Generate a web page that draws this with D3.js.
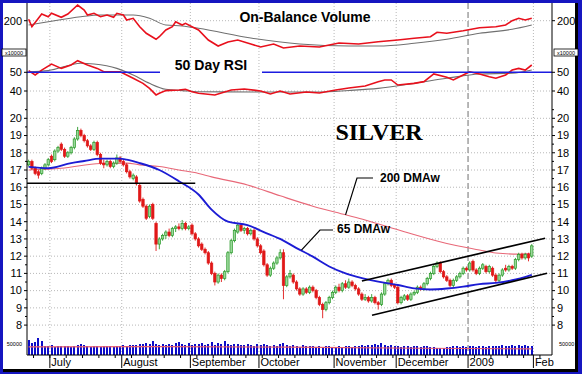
<!DOCTYPE html>
<html lang="en">
<head>
<meta charset="UTF-8">
<title>Silver</title>
<script src="https://d3js.org/d3.v7.min.js"></script>
<style>
  body { margin: 0; background: #fff; }
  svg { display: block; font-family: "Liberation Sans", Arial, sans-serif; }
</style>
</head>
<body>
<div id="chart"></div>
<script>
// trading days 20 Jun 2008 .. 30 Jan 2009, one entry per day
const opens = [17.3,17.5,17.1,16.9,16.8,17.1,17.3,17.8,17.6,18.1,18.5,18.2,17.8,18.0,18.3,18.8,19.3,19.0,18.7,18.4,
  18.2,18.6,17.9,17.4,17.3,17.5,17.2,17.4,17.7,17.5,17.3,16.9,16.5,16.6,16.1,15.3,14.9,14.3,15.0,13.9,
  12.7,13.0,13.2,13.4,13.2,13.6,13.7,13.6,13.9,13.6,13.8,13.3,13.0,12.7,12.4,12.2,11.6,11.0,10.5,10.9,
  10.7,11.1,12.2,12.9,13.4,13.8,13.5,13.6,13.3,13.5,13.0,12.6,12.3,11.5,10.9,11.3,11.6,11.9,12.2,10.3,
  10.8,10.9,10.5,10.1,9.8,10.1,9.9,10.2,10.0,9.6,9.2,8.9,9.3,9.6,9.9,10.2,10.0,10.4,10.2,10.5,
  10.3,10.1,9.8,9.5,9.6,9.4,9.6,9.3,9.2,9.8,10.4,10.6,10.3,10.2,9.3,9.5,9.7,9.5,9.8,9.9,
  10.2,10.1,10.4,10.7,11.0,11.4,11.6,11.1,10.8,10.6,10.3,10.6,10.8,11.0,11.3,11.2,11.7,11.2,11.0,11.3,
  11.4,11.1,11.3,10.9,10.6,10.9,11.3,11.2,11.4,11.3,11.8,12.1,11.9,12.1,12.0];
const highs = [17.6,17.6,17.2,17.0,17.2,17.4,17.7,17.9,18.2,18.4,18.6,18.3,18.1,18.4,18.9,19.5,19.4,19.1,18.8,18.5,
  18.7,18.7,18.0,17.6,17.6,17.6,17.5,17.9,17.8,17.6,17.4,17.0,16.8,16.7,16.2,15.4,15.0,15.0,15.1,14.0,
  13.1,13.3,13.5,13.6,13.7,13.8,13.9,14.1,14.0,13.8,13.9,13.4,13.1,12.8,12.5,12.3,11.7,11.1,11.0,11.0,
  11.2,12.3,13.0,13.6,13.9,13.9,13.7,13.7,13.6,13.6,13.1,12.7,12.4,11.6,11.4,11.7,12.0,12.4,12.4,10.9,
  11.2,11.0,10.6,10.2,10.2,10.2,10.3,10.3,10.1,9.7,9.3,9.4,9.7,10.0,10.3,10.4,10.5,10.6,10.7,10.6,
  10.4,10.2,9.9,9.8,9.7,9.8,9.7,9.4,9.9,10.5,10.7,10.7,10.4,10.3,9.7,9.8,9.8,9.9,10.0,10.3,
  10.3,10.5,10.8,11.1,11.5,11.7,11.7,11.2,10.9,10.7,10.7,10.9,11.1,11.4,11.4,11.7,11.8,11.3,11.4,11.6,
  11.5,11.5,11.4,11.0,11.0,11.3,11.5,11.5,11.5,11.9,12.2,12.2,12.2,12.2,12.7];
const lows = [17.2,17.0,16.7,16.5,16.7,17.0,17.2,17.4,17.5,18.0,18.1,17.7,17.7,17.9,18.2,18.7,18.9,18.6,18.3,18.1,
  18.1,17.8,17.3,17.1,17.2,17.1,17.1,17.3,17.4,17.2,16.8,16.5,16.4,16.1,15.1,14.8,14.1,14.2,14.1,12.3,
  12.4,12.9,13.0,13.1,13.1,13.4,13.5,13.5,13.5,13.5,13.2,12.9,12.5,12.3,12.1,11.5,10.9,10.3,10.4,10.5,
  10.6,11.0,12.1,12.8,13.3,13.4,13.3,13.2,13.2,12.9,12.5,12.1,11.4,10.8,10.8,11.2,11.5,11.8,9.5,10.2,
  10.7,10.4,10.0,9.7,9.7,9.8,9.8,9.9,9.5,9.1,8.4,8.8,9.2,9.5,9.8,9.9,9.9,10.1,10.1,10.2,
  10.0,9.7,9.4,9.4,9.3,9.3,9.2,8.9,9.1,9.7,10.3,10.2,10.1,9.2,9.2,9.4,9.4,9.4,9.7,9.8,
  10.0,10.0,10.3,10.6,10.9,11.3,11.0,10.7,10.5,10.2,10.2,10.5,10.7,10.9,11.1,11.1,11.1,10.9,10.9,11.2,
  11.0,11.0,10.8,10.5,10.5,10.8,11.1,11.1,11.2,11.2,11.7,11.8,11.8,11.7,11.9];
const closes = [17.5,17.1,16.8,16.7,17.1,17.3,17.6,17.5,18.1,18.3,18.2,17.8,18.0,18.3,18.8,19.3,19.0,18.7,18.4,18.2,
  18.6,17.9,17.4,17.3,17.5,17.2,17.4,17.7,17.5,17.3,16.9,16.6,16.7,16.2,15.2,14.9,14.2,14.9,14.2,12.7,
  13.0,13.2,13.4,13.2,13.6,13.7,13.6,13.9,13.6,13.7,13.3,13.0,12.6,12.4,12.2,11.6,11.0,10.5,10.9,10.7,
  11.1,12.2,12.9,13.5,13.8,13.5,13.6,13.3,13.5,13.0,12.6,12.2,11.5,10.9,11.3,11.6,11.9,12.2,10.3,10.8,
  11.0,10.5,10.1,9.8,10.1,9.9,10.2,10.0,9.6,9.2,8.9,9.3,9.6,9.9,10.2,10.0,10.4,10.2,10.5,10.3,
  10.1,9.8,9.5,9.6,9.4,9.6,9.3,9.2,9.8,10.4,10.6,10.3,10.2,9.3,9.6,9.7,9.5,9.8,9.9,10.2,
  10.1,10.4,10.7,11.0,11.4,11.6,11.1,10.8,10.6,10.3,10.6,10.8,11.0,11.3,11.2,11.6,11.2,11.0,11.3,11.5,
  11.1,11.4,10.9,10.6,10.9,11.2,11.2,11.4,11.3,11.8,12.1,11.9,12.1,11.9,12.6];
const volumes = [66000,56000,58000,76000,62000,42000,40000,44000,38000,41000,40000,39000,43000,37000,40000,45000,52000,44000,41000,38000,
  42000,40000,36000,41000,43000,39000,38000,42000,40000,44000,41000,45000,47000,46000,50000,52000,55000,48000,62000,50000,
  47000,52000,45000,48000,44000,56000,57000,50000,46000,53000,44000,48000,50000,56000,47000,52000,60000,46000,55000,48000,
  62000,50000,46000,52000,48000,45000,44000,50000,47000,42000,48000,44000,52000,47000,43000,46000,40000,48000,56000,44000,
  42000,46000,40000,38000,44000,41000,39000,42000,36000,40000,37000,39000,41000,38000,36000,40000,37000,42000,39000,38000,
  40000,43000,46000,42000,44000,47000,52000,45000,54000,44000,40000,46000,43000,41000,38000,40000,42000,36000,39000,41000,
  37000,43000,40000,38000,36000,33000,30000,34000,35000,37000,39000,41000,38000,40000,36000,39000,41000,37000,40000,42000,
  38000,40000,41000,39000,42000,44000,40000,43000,45000,41000,44000,42000,46000,40000,43000];

// moving averages and indicators as [day index, value]
const ma65 = [[0,17.18],[6,17.1],[13,17.4],[17,17.52],[22,17.66],[28,17.66],[30,17.6],[34,17.4],[40,17.0],[46,16.35],
  [52,15.58],[56,14.7],[61,14.0],[67,13.8],[72,13.4],[77,13.0],[82,12.47],[87,11.97],[92,11.4],[97,11.0],
  [102,10.73],[107,10.52],[113,10.33],[118,10.13],[123,10.07],[128,10.12],[133,10.23],[138,10.38],[143,10.45],[148,10.6],[154,10.92]];
const ma200 = [[0,17.0],[10,17.1],[22,17.38],[30,17.4],[34,17.3],[40,17.2],[46,17.0],[52,16.8],[56,16.6],[67,16.13],
  [77,15.5],[87,14.9],[97,14.4],[103,14.1],[115,13.42],[128,12.74],[138,12.36],[143,12.18],[150,12.12],[154,12.16]];
const obv = [[0,202.8],[1,188],[4,213.4],[6,208],[7,214.8],[10,206.8],[12,213.4],[15,231.4],[17,221.4],[18,211.4],
  [20,214.8],[22,208],[24,211.4],[26,206.8],[27,214.8],[29,211.4],[30,201.4],[32,204.8],[34,188],[36,174.8],
  [39,162.8],[40,168],[42,181.4],[44,188],[45,198],[47,191.4],[48,194.8],[50,188],[52,181.4],[55,161.4],
  [58,149.4],[61,157.4],[64,161.4],[68,153.4],[71,147.4],[75,153.4],[78,145.4],[83,149.4],[89,147.4],[95,155.4],
  [101,153.4],[107,158],[113,161.4],[118,164.8],[123,168],[125,176.8],[128,174.8],[133,180],[138,186],[143,188],
  [146,191.4],[148,200],[150,204.8],[152,201.4],[154,204.8]];
const obvAvg = [[0,191.4],[6,198],[16,208],[22,211.4],[32,211.4],[37,204.8],[42,191.4],[47,189.4],[52,184.8],[68,165.4],
  [83,153.4],[98,149.4],[107,149.4],[118,154.8],[128,162.8],[138,174.8],[148,182.8],[154,191.4]];
const rsi = [[0,50.9],[2,48.6],[4,51.2],[7,54.4],[10,52.1],[13,53.9],[15,56.2],[18,53.9],[21,52.1],[23,50.3],
  [26,50.3],[28,50.3],[30,48.6],[32,46.8],[35,44.1],[37,41.4],[39,37.9],[40,38.8],[42,40.2],[46,40.5],
  [48,40.9],[50,39.6],[52,38.8],[57,37.9],[62,40.5],[66,41.1],[71,40],[74,38.4],[77,40],[80,38.4],
  [85,39.5],[89,38.9],[94,40.5],[98,41.6],[103,42.7],[107,45],[109,45.9],[111,45.9],[113,43.2],[118,44.1],
  [121,45],[124,49.1],[128,47.3],[130,45.9],[133,48.6],[135,50.3],[138,49.1],[141,47.6],[143,46.8],[146,48.6],
  [148,51.2],[150,52.1],[152,51.2],[154,53.9]];
const rsiAvg = [[0,50.3],[6,50.9],[16,54.8],[20,54.4],[27,52.1],[32,48.6],[37,44.1],[42,40.9],[47,40.2],[52,39.6],
  [71,39.5],[89,39.5],[98,40.3],[107,41.4],[118,44.1],[128,46.8],[138,49.1],[148,49.5],[154,51.2]];
const volAvg = [[0,37000],[40,38000],[80,36000],[120,31000],[154,28000]];

// drawn lines: support at 16.2 and the rising channel
const support = [[0,16.23],[51.5,16.23]];
const channelTop = [[102.5,10.56],[158.6,13.04]];
const channelBottom = [[105.6,8.57],[159.2,11.01]];

const months = ["July","August","September","October","November","December","2009","Feb"];
const monthStart = [7,29,50,71,94,113,135,155];
const priceTicks = [8,9,10,11,12,13,14,15,16,17,18,19,20];

const W = 582, H = 374;
const svg = d3.select("#chart").append("svg").attr("width", W).attr("height", H);

// frame
svg.append("rect").attr("width", W).attr("height", H).attr("fill", "#1616c0");
svg.append("rect").attr("x", 3).attr("y", 3).attr("width", 572).attr("height", 366).attr("fill", "#fff");
svg.append("rect").attr("x", 3).attr("y", 369).attr("width", 575).attr("height", 3).attr("fill", "#000");
svg.append("rect").attr("x", 575).attr("y", 3).attr("width", 3).attr("height", 369).attr("fill", "#000");

const x = d3.scaleLinear().domain([0, 161]).range([27, 553]);
const y = d3.scaleLinear().domain([8, 20]).range([325.1, 118.3]);
const yObv = d3.scaleLinear().domain([140, 240]).range([50.7, 0.7]);
const yRsi = d3.scaleLinear().domain([40, 50]).range([91, 72.3]);
const yVol = d3.scaleLinear().domain([0, 50000]).range([355, 344]);
const left = 27, right = 552, bottom = 355;

// clip paths for panels
const defs = svg.append("defs");
function clip(id, y0, y1) {
  defs.append("clipPath").attr("id", id).append("rect")
    .attr("x", left).attr("y", y0).attr("width", right - left).attr("height", y1 - y0);
}
clip("cObv", 3, 50);
clip("cRsi", 56, 100);
clip("cMain", 100, bottom);

// grid
const grid = svg.append("g").attr("stroke", "#b8b8b8").attr("stroke-dasharray", "1,2").attr("stroke-width", 1);
grid.selectAll(".h").data(priceTicks).join("line")
  .attr("x1", left).attr("x2", right).attr("y1", d => y(d)).attr("y2", d => y(d));
grid.append("line").attr("x1", left).attr("x2", right).attr("y1", yObv(200)).attr("y2", yObv(200));
grid.append("line").attr("x1", left).attr("x2", right).attr("y1", yRsi(40)).attr("y2", yRsi(40));
grid.selectAll(".v").data(monthStart.filter((d, i) => months[i] !== "2009")).join("line")
  .attr("x1", d => x(d)).attr("x2", d => x(d)).attr("y1", 3).attr("y2", bottom);
svg.append("line").attr("x1", x(135)).attr("x2", x(135)).attr("y1", 3).attr("y2", bottom)
  .attr("stroke", "#a0a0a0").attr("stroke-width", 1.5).attr("stroke-dasharray", "6,3");

const line = d3.line().x(d => x(d[0] + 0.5)).curve(d3.curveMonotoneX);

// OBV panel
const gObv = svg.append("g").attr("clip-path", "url(#cObv)").attr("fill", "none");
gObv.append("path").attr("d", line.y(d => yObv(d[1]))(obvAvg)).attr("stroke", "#707070").attr("stroke-width", 1.1);
gObv.append("path").attr("d", d3.line().x(d => x(d[0] + 0.5)).y(d => yObv(d[1]))(obv))
  .attr("stroke", "#e8101c").attr("stroke-width", 1.6);

// RSI panel
const gRsi = svg.append("g").attr("clip-path", "url(#cRsi)").attr("fill", "none");
gRsi.append("path").attr("d", line.y(d => yRsi(d[1]))(rsiAvg)).attr("stroke", "#707070").attr("stroke-width", 1.1);
gRsi.append("path").attr("d", d3.line().x(d => x(d[0] + 0.5)).y(d => yRsi(d[1]))(rsi))
  .attr("stroke", "#e8101c").attr("stroke-width", 1.6);
gRsi.append("line").attr("x1", left).attr("x2", 160).attr("y1", yRsi(50)).attr("y2", yRsi(50))
  .attr("stroke", "#1c1ce0").attr("stroke-width", 1.6);
gRsi.append("line").attr("x1", 262).attr("x2", right).attr("y1", yRsi(50)).attr("y2", yRsi(50))
  .attr("stroke", "#1c1ce0").attr("stroke-width", 1.6);

// volume bars
const gVol = svg.append("g");
gVol.selectAll("rect").data(volumes).join("rect")
  .attr("x", (d, i) => Math.round(x(i + 0.5)) - 1).attr("width", 1.5)
  .attr("y", d => yVol(d)).attr("height", d => yVol(0) - yVol(d))
  .attr("fill", "#0c0cc8").attr("shape-rendering", "crispEdges");
gVol.append("path").attr("d", d3.line().x(d => x(d[0] + 0.5)).y(d => yVol(d[1]))(volAvg))
  .attr("fill", "none").attr("stroke", "#e86070").attr("stroke-width", 1.1);

// main panel
const gMain = svg.append("g").attr("clip-path", "url(#cMain)");
gMain.append("path").attr("d", line.y(d => y(d[1]))(ma200))
  .attr("fill", "none").attr("stroke", "#e86878").attr("stroke-width", 1.1);

const candles = gMain.append("g");
const days = d3.range(opens.length);
candles.selectAll("line").data(days).join("line")
  .attr("x1", i => x(i + 0.5)).attr("x2", i => x(i + 0.5))
  .attr("y1", i => y(highs[i])).attr("y2", i => y(lows[i]))
  .attr("stroke", i => closes[i] >= opens[i] ? "#2a9a2a" : "#e01818").attr("stroke-width", 0.9);
candles.selectAll("rect").data(days).join("rect")
  .attr("x", i => x(i + 0.5) - 1.2).attr("width", 2.4)
  .attr("y", i => y(Math.max(opens[i], closes[i])))
  .attr("height", i => Math.max(1, Math.abs(y(opens[i]) - y(closes[i]))))
  .attr("fill", i => closes[i] >= opens[i] ? "#9ad89a" : "#e01818")
  .attr("stroke", i => closes[i] >= opens[i] ? "#2a9a2a" : "#e01818").attr("stroke-width", 0.7);

gMain.append("path").attr("d", line.y(d => y(d[1]))(ma65))
  .attr("fill", "none").attr("stroke", "#1c1cd4").attr("stroke-width", 1.9);

const straight = d3.line().x(d => x(d[0])).y(d => y(d[1]));
[support, channelTop, channelBottom].forEach(s => {
  gMain.append("path").attr("d", straight(s)).attr("stroke", "#000").attr("stroke-width", 1.7).attr("fill", "none");
});

// callouts
svg.append("path").attr("d", `M373,178H357L${x(97.5)},${y(14.4)}`).attr("fill", "none").attr("stroke", "#000").attr("stroke-width", 1.2);
svg.append("path").attr("d", `M333,230H320L${x(84)},${y(12.35)}`).attr("fill", "none").attr("stroke", "#000").attr("stroke-width", 1.2);

// axes
const ax = svg.append("g").attr("stroke", "#000");
ax.append("line").attr("x1", left).attr("x2", left).attr("y1", 3).attr("y2", bottom);
ax.append("line").attr("x1", right).attr("x2", right).attr("y1", 3).attr("y2", bottom);
ax.append("line").attr("x1", left).attr("x2", right).attr("y1", bottom).attr("y2", bottom);
const halfTicks = d3.range(8, 20.51, 0.5);
ax.selectAll(".lt").data(halfTicks).join("line")
  .attr("x1", d => d % 1 ? left - 2 : left - 3).attr("x2", left).attr("y1", d => y(d)).attr("y2", d => y(d));
ax.selectAll(".rt").data(halfTicks).join("line")
  .attr("x1", right).attr("x2", d => d % 1 ? right + 2 : right + 3).attr("y1", d => y(d)).attr("y2", d => y(d));
[200].forEach(v => {
  ax.append("line").attr("x1", left - 3).attr("x2", left).attr("y1", yObv(v)).attr("y2", yObv(v));
  ax.append("line").attr("x1", right).attr("x2", right + 3).attr("y1", yObv(v)).attr("y2", yObv(v));
});
[40, 50].forEach(v => {
  ax.append("line").attr("x1", left - 3).attr("x2", left).attr("y1", yRsi(v)).attr("y2", yRsi(v));
  ax.append("line").attr("x1", right).attr("x2", right + 3).attr("y1", yRsi(v)).attr("y2", yRsi(v));
});
const weekTicks = d3.range(2, 161, 5);
ax.selectAll(".wt").data(weekTicks).join("line")
  .attr("x1", d => x(d)).attr("x2", d => x(d)).attr("y1", bottom).attr("y2", bottom + 3);
ax.selectAll(".mt").data(monthStart).join("line")
  .attr("x1", d => x(d)).attr("x2", d => x(d)).attr("y1", bottom).attr("y2", 368);

// tick labels
const lab = svg.append("g").attr("font-size", 11).attr("fill", "#000");
function sideLabels(vals, sc) {
  lab.selectAll(null).data(vals).join("text").attr("x", 22).attr("y", d => sc(d)).attr("dy", "0.35em")
    .attr("text-anchor", "end").text(d => d);
  lab.selectAll(null).data(vals).join("text").attr("x", 557).attr("y", d => sc(d)).attr("dy", "0.35em")
    .text(d => d);
}
sideLabels(priceTicks, y);
sideLabels([200], yObv);
sideLabels([40, 50], yRsi);
lab.selectAll(null).data(months).join("text")
  .attr("x", (d, i) => x(monthStart[i]) + 1.5).attr("y", 366).text(d => d);

// small scale tags
[[2, 49], [554, 49]].forEach(p => {
  svg.append("rect").attr("x", p[0]).attr("y", p[1]).attr("width", 24).attr("height", 7)
    .attr("fill", "#fff").attr("stroke", "#000").attr("stroke-width", 0.8);
  svg.append("text").attr("x", p[0] + 12).attr("y", p[1] + 5.6).attr("font-size", 5.5)
    .attr("text-anchor", "middle").text("x10000");
});
svg.append("text").attr("x", 22).attr("y", yVol(50000) + 2).attr("font-size", 5.5).attr("text-anchor", "end").text("50000");
svg.append("text").attr("x", 559).attr("y", yVol(50000) + 2).attr("font-size", 5.5).text("50000");

// titles
svg.append("text").attr("x", 305).attr("y", 22).attr("text-anchor", "middle")
  .attr("font-size", 14).attr("font-weight", "bold").text("On-Balance Volume");
svg.append("text").attr("x", 211).attr("y", 70).attr("text-anchor", "middle")
  .attr("font-size", 14).attr("font-weight", "bold").text("50 Day RSI");
svg.append("text").attr("x", 379).attr("y", 140).attr("text-anchor", "middle")
  .attr("font-family", "Liberation Serif, Times New Roman, serif")
  .attr("font-size", 24).attr("font-weight", "bold").text("SILVER");
svg.append("text").attr("x", 380).attr("y", 182).attr("font-size", 12).attr("font-weight", "bold").text("200 DMAw");
svg.append("text").attr("x", 337).attr("y", 233).attr("font-size", 12).attr("font-weight", "bold").text("65 DMAw");
</script>
</body>
</html>
